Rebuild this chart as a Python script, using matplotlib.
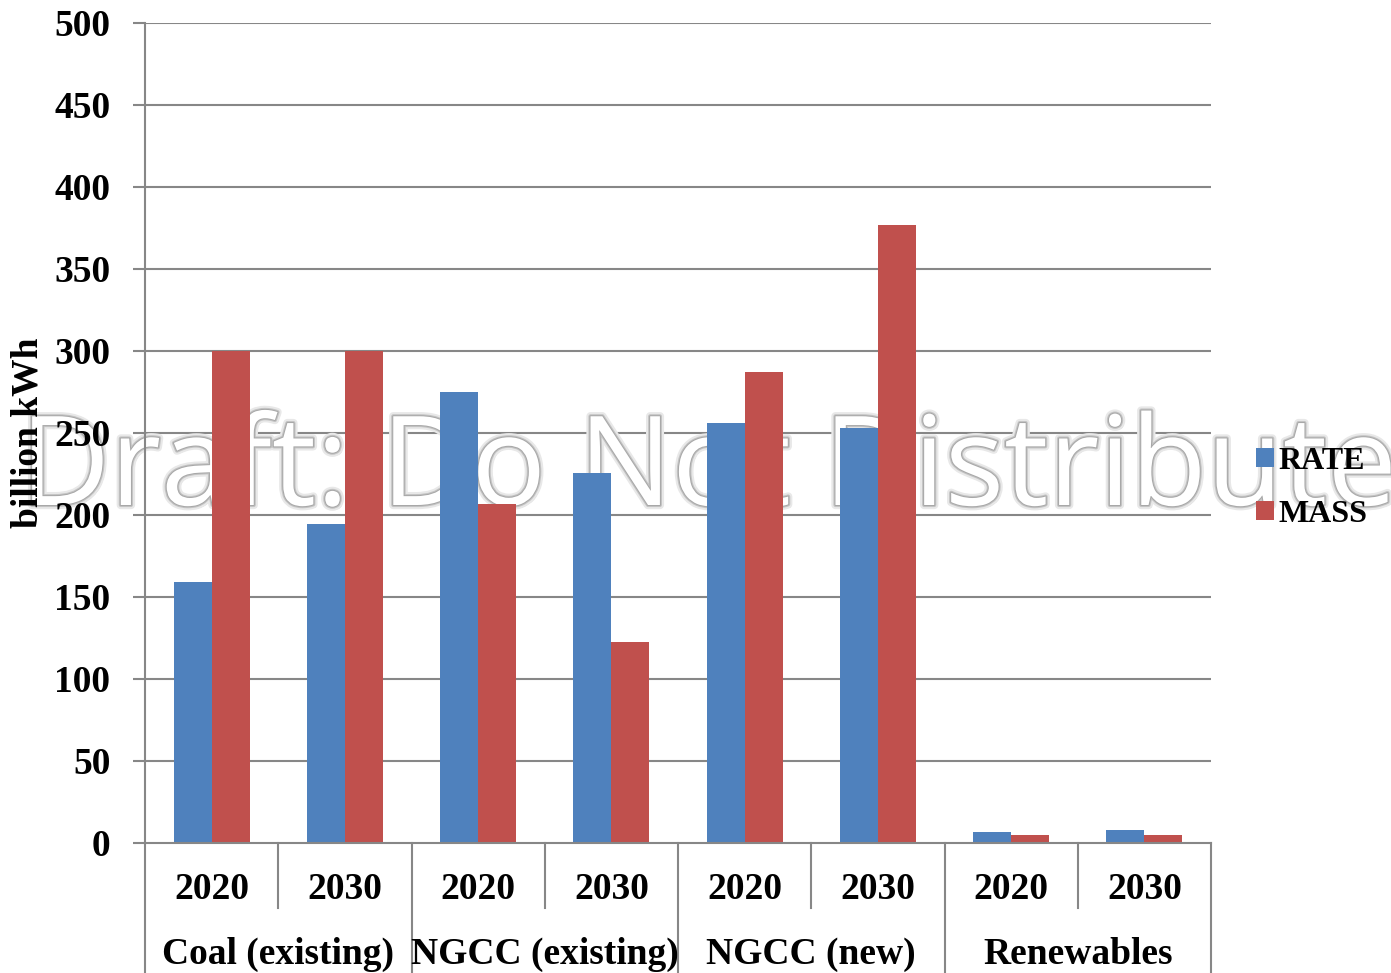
import matplotlib
matplotlib.use("Agg")
import matplotlib.pyplot as plt
import matplotlib.patheffects as pe
import numpy as np

groups = ["Coal (existing)", "NGCC (existing)", "NGCC (new)", "Renewables"]
years = ["2020", "2030", "2020", "2030", "2020", "2030", "2020", "2030"]
rate = [159, 194.5, 275, 225.5, 256, 253, 7, 7.7]
mass = [300, 300, 207, 122.5, 287, 377, 5, 5]
series_names = ["RATE", "MASS"]
colors = ["#4F81BD", "#C0504D"]
yticks = [0, 50, 100, 150, 200, 250, 300, 350, 400, 450, 500]

W, H = 1391, 973
fig = plt.figure(figsize=(W/100, H/100), dpi=100)
ax = fig.add_axes([145/W, 1-843/H, (1211-145)/W, (843-23)/H])

serif = "Liberation Serif"
grid_c = "#878787"

x = np.arange(len(years))
w = 0.285
ax.bar(x - w/2, rate, w, color=colors[0], label=series_names[0], zorder=2)
ax.bar(x + w/2, mass, w, color=colors[1], label=series_names[1], zorder=2)

ax.set_xlim(-0.5, len(years) - 0.5)
ax.set_ylim(0, 500)
ax.set_yticks(yticks)
for yv in yticks[1:]:
    ax.axhline(yv, color=grid_c, linewidth=1.5, zorder=0.5)
ax.set_axisbelow(False)
ax.xaxis.set_zorder(3)
ax.yaxis.set_zorder(3)
for s in ["top", "right"]:
    ax.spines[s].set_visible(False)
for s in ["left", "bottom"]:
    ax.spines[s].set_color(grid_c)
    ax.spines[s].set_linewidth(1.5)
    ax.spines[s].set_zorder(2.5)

ax.tick_params(axis="y", length=9, width=1.5, color=grid_c, pad=16)
for lab in ax.get_yticklabels():
    lab.set_fontfamily(serif)
    lab.set_fontweight("bold")
    lab.set_fontsize(27)

ax.set_xticks(x)
ax.set_xticklabels(years, fontfamily=serif, fontweight="bold", fontsize=27)
ax.tick_params(axis="x", length=0, pad=21)

ax.set_ylabel("billion kWh", fontfamily=serif, fontweight="bold", fontsize=27)
ax.yaxis.set_label_coords((46-145)/1066, 0.5)

# separators
trans = ax.get_xaxis_transform()
ah = 820.0
for xs in [0.5, 2.5, 4.5, 6.5]:
    ax.plot([xs, xs], [0, -65/ah], transform=trans, color=grid_c, lw=1.5, clip_on=False)
for xs in [-0.5, 1.5, 3.5, 5.5, 7.5]:
    ax.plot([xs, xs], [0, -135/ah], transform=trans, color=grid_c, lw=1.5, clip_on=False)

for i, g in enumerate(groups):
    ax.text(2*i + 0.5, -111/ah, g, transform=trans, ha="center", va="center",
            fontfamily=serif, fontweight="bold", fontsize=27)

# watermark
wm = ax.text(20/W, 1-505/H, "Draft: Do Not Distribute", transform=fig.transFigure,
             ha="left", va="baseline", fontfamily="Open Sans", fontsize=90,
             color="white", zorder=1, clip_on=False,
             path_effects=[pe.SimplePatchShadow(offset=(2, -2), shadow_rgbFace="#9a9a9a", alpha=0.6),
                           pe.Stroke(linewidth=6, foreground="#e8e8e8"),
                           pe.Stroke(linewidth=3, foreground="#c4c4c4"),
                           pe.Stroke(linewidth=1.5, foreground="#a8a8a8"),
                           pe.Normal()])
fig.canvas.draw()
bb = wm.get_window_extent()
wm.set_fontsize(90 * 1378 / bb.width)

leg = ax.legend(loc="center left", bbox_to_anchor=(1 + (1250-1211)/1066, (843-488)/820),
                frameon=False, borderaxespad=0, borderpad=0.2,
                prop={"family": serif, "weight": "bold", "size": 23},
                handlelength=0.55, handleheight=0.55, handletextpad=0.15,
                labelspacing=0.75)
leg.set_zorder(5)

fig.savefig("out.png", dpi=100)
